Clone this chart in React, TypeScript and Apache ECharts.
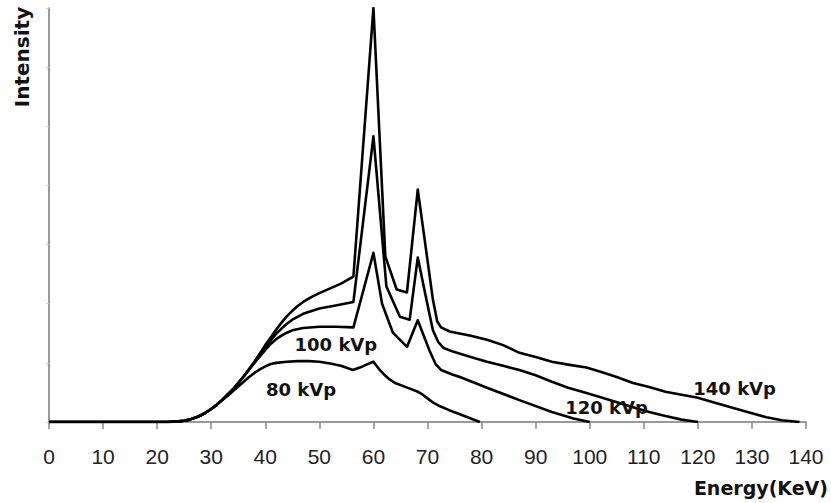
import React, { useEffect, useRef } from "react";
import * as echarts from "echarts";

const xTicks = [0, 140, 10];

const energy80 = [0, 22, 24, 25, 26, 27, 28, 29, 30, 31, 32, 33, 34, 35, 36, 37, 38, 39, 40, 41, 42, 44, 46, 48, 50, 52, 54, 56.2, 58, 60, 61, 62, 63, 64, 66, 68, 69, 70, 71, 72, 74, 76, 78, 79.7];
const intensity80 = [0, 0, 0.01, 0.02, 0.04, 0.07, 0.11, 0.16, 0.22, 0.29, 0.37, 0.44, 0.52, 0.6, 0.68, 0.76, 0.83, 0.89, 0.94, 0.98, 1.0, 1.02, 1.03, 1.03, 1.02, 0.99, 0.95, 0.88, 0.94, 1.02, 0.9, 0.8, 0.72, 0.66, 0.59, 0.52, 0.47, 0.4, 0.33, 0.28, 0.2, 0.13, 0.06, 0];

const energy100 = [0, 22, 24, 25, 26, 27, 28, 29, 30, 31, 32, 33, 34, 35, 36, 37, 38, 39, 40, 41, 42, 43, 44, 45, 47, 50, 53, 56.3, 60, 61.6, 63.6, 66.2, 68.2, 70.4, 71.5, 72.5, 74.7, 76, 81, 87, 93, 97, 100];
const intensity100 = [0, 0, 0.01, 0.02, 0.04, 0.07, 0.11, 0.16, 0.22, 0.29, 0.37, 0.46, 0.55, 0.66, 0.77, 0.89, 1.0, 1.11, 1.22, 1.32, 1.4, 1.46, 1.51, 1.55, 1.59, 1.61, 1.61, 1.6, 2.86, 2.0, 1.51, 1.27, 1.72, 1.2, 0.98, 0.88, 0.8, 0.76, 0.58, 0.37, 0.17, 0.06, 0];

const energy120 = [0, 22, 24, 25, 26, 27, 28, 29, 30, 31, 32, 33, 34, 35, 36, 37, 38, 39, 40, 41, 42, 43, 44, 45, 47, 50, 53, 56.3, 60, 62.4, 64.9, 66.7, 68.2, 69.8, 71, 72, 73, 74.7, 78, 81, 84, 87, 90, 93, 96, 99.4, 102, 105.5, 108, 111, 114, 117, 120];
const intensity120 = [0, 0, 0.01, 0.02, 0.04, 0.07, 0.11, 0.16, 0.22, 0.29, 0.37, 0.46, 0.55, 0.66, 0.77, 0.89, 1.01, 1.14, 1.26, 1.38, 1.49, 1.58, 1.66, 1.73, 1.83, 1.92, 1.97, 2.03, 4.83, 2.29, 1.78, 1.73, 2.78, 2.07, 1.55, 1.35, 1.25, 1.19, 1.1, 1.02, 0.95, 0.88, 0.79, 0.68, 0.58, 0.49, 0.42, 0.32, 0.25, 0.17, 0.1, 0.04, 0];

const energy140 = [0, 22, 24, 25, 26, 27, 28, 29, 30, 31, 32, 33, 34, 35, 36, 37, 38, 39, 40, 41, 42, 43, 44, 45, 46, 47, 48.5, 50, 52, 54, 56.3, 60, 62.2, 64.3, 66.2, 68.2, 71, 71.8, 72.5, 74.1, 78, 81, 84, 87, 90, 93, 96, 99.4, 102, 105, 108, 111, 114, 117, 120, 123, 126.4, 129.5, 132.7, 135.5, 138.8];
const intensity140 = [0, 0, 0.01, 0.02, 0.04, 0.07, 0.11, 0.16, 0.22, 0.29, 0.37, 0.46, 0.55, 0.66, 0.77, 0.89, 1.02, 1.16, 1.3, 1.43, 1.56, 1.68, 1.79, 1.88, 1.96, 2.03, 2.11, 2.18, 2.26, 2.34, 2.46, 7.0, 2.8, 2.24, 2.19, 3.93, 2.07, 1.7, 1.6, 1.53, 1.46, 1.39, 1.3, 1.17, 1.1, 1.02, 0.97, 0.92, 0.85, 0.76, 0.66, 0.59, 0.51, 0.46, 0.41, 0.33, 0.24, 0.16, 0.08, 0.03, 0];

const seriesNames = ["80 kVp", "100 kVp", "120 kVp", "140 kVp"];
const labelEnergy = [46.6, 53.05, 103.1, 126.8];
const labelIntensity = [0.55, 1.305, 0.245, 0.56];

const pairs = (xs: number[], ys: number[]) => xs.map((x, i) => [x, ys[i]]);

export default function App() {
  const ref = useRef<HTMLDivElement>(null);
  useEffect(() => {
    if (!ref.current) return;
    const chart = echarts.init(ref.current, null, { renderer: "svg" });
    const allData = [
      pairs(energy80, intensity80),
      pairs(energy100, intensity100),
      pairs(energy120, intensity120),
      pairs(energy140, intensity140),
    ];
    chart.setOption({
      animation: false,
      backgroundColor: "#ffffff",
      grid: { left: 49, right: 25, top: 8, bottom: 81, containLabel: false },
      xAxis: {
        type: "value",
        min: xTicks[0],
        max: xTicks[1],
        interval: xTicks[2],
        axisLine: { show: true, lineStyle: { color: "#777", width: 1.5 } },
        axisTick: { show: true, length: 7, inside: false, lineStyle: { color: "#888", width: 1.5 } },
        axisLabel: { margin: 24, color: "#222", fontSize: 21, fontFamily: "Liberation Sans" },
        splitLine: { show: false },
      },
      yAxis: {
        type: "value",
        min: 0,
        max: 7,
        interval: 1,
        axisLine: { show: true, lineStyle: { color: "#777", width: 1.5 } },
        axisTick: { show: true, length: 3, lineStyle: { color: "#ccc", width: 1 } },
        axisLabel: { show: false },
        splitLine: { show: false },
      },
      graphic: [
        {
          type: "text",
          x: 22,
          y: 57,
          rotation: Math.PI / 2,
          style: {
            text: "Intensity",
            font: "bold 20px 'DejaVu Sans'",
            fill: "#111",
            align: "center",
            verticalAlign: "middle",
          },
        },
        {
          type: "text",
          x: 828,
          y: 488,
          style: {
            text: "Energy(KeV)",
            font: "bold 19px 'DejaVu Sans'",
            fill: "#111",
            align: "right",
            verticalAlign: "middle",
          },
        },
      ],
      series: allData.map((d, i) => ({
        type: "line",
        name: seriesNames[i],
        data: d,
        showSymbol: false,
        symbol: "none",
        lineStyle: { color: "#000", width: 2.6, join: "round" },
        markPoint: {
          symbol: "rect",
          symbolSize: [1, 1],
          itemStyle: { color: "rgba(0,0,0,0)" },
          label: {
            show: true,
            position: "inside",
            formatter: seriesNames[i],
            fontFamily: "DejaVu Sans",
            fontWeight: "bold",
            fontSize: 18,
            color: "#111",
          },
          data: [{ coord: [labelEnergy[i], labelIntensity[i]], name: seriesNames[i] }],
        },
      })),
    });
    return () => chart.dispose();
  }, []);
  return <div ref={ref} style={{ position: "fixed", left: 0, top: 0, width: 831, height: 503, background: "#fff" }} />;
}
